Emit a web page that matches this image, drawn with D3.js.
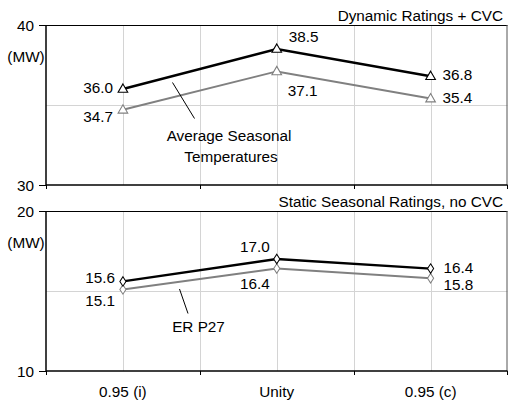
<!DOCTYPE html>
<html><head><meta charset="utf-8">
<script src="https://cdn.jsdelivr.net/npm/d3@7"></script>
<style>
html,body{margin:0;padding:0;background:#fff;}
text{font-family:"Liberation Sans",Arial,sans-serif;font-size:15.3px;fill:#000;}
</style></head>
<body>
<svg id="c" width="508" height="403"></svg>
<script>
const categories = ["0.95 (i)", "Unity", "0.95 (c)"];
const topBlack = [36.0, 38.5, 36.8];
const topGray = [34.7, 37.1, 35.4];
const botBlack = [15.6, 17.0, 16.4];
const botGray = [15.1, 16.4, 15.8];
const topTicks = [30, 40];
const botTicks = [10, 20];
const topTitle = "Dynamic Ratings + CVC";
const botTitle = "Static Seasonal Ratings, no CVC";
const unitLabel = "(MW)";

const svg = d3.select("#c");
const L = 46, R = 507.5;
const x = d3.scalePoint().domain(categories).range([L, R]).padding(0.5);
const xb = d3.scaleBand().domain(categories).range([L, R]);

const panels = [
  {domain:[30,40], top:25, bottom:185, ticks:topTicks, title:topTitle, titleY:21,
   series:[{v:topGray, color:"#808080", w:2}, {v:topBlack, color:"#000", w:2.4}], marker:"tri",
   labels:{black:[[-10,4,"end"],[12,-7,"start"],[12,4,"start"]], gray:[[-10,12,"end"],[11,25,"start"],[12,4,"start"]]}},
  {domain:[10,20], top:211, bottom:371, ticks:botTicks, title:botTitle, titleY:207,
   series:[{v:botGray, color:"#808080", w:2}, {v:botBlack, color:"#000", w:2.4}], marker:"dia",
   labels:{black:[[-8,2,"end"],[-7,-7,"end"],[13,4,"start"]], gray:[[-8,17,"end"],[-7,20,"end"],[13,12,"start"]]}}
];

panels.forEach((p, pi) => {
  const y = d3.scaleLinear().domain(p.domain).range([p.bottom, p.top]);
  const g = svg.append("g");
  // gridlines
  const mid = (p.domain[0]+p.domain[1])/2;
  g.append("line").attr("x1",L).attr("x2",R).attr("y1",Math.round(y(mid))+0.5).attr("y2",Math.round(y(mid))+0.5)
    .attr("stroke","#d4d4d4").attr("stroke-width",1);
  const vx = categories.map(c => x(c)).concat(categories.slice(1).map(c => xb(c)));
  vx.forEach(v => g.append("line").attr("x1",Math.round(v)+0.5).attr("x2",Math.round(v)+0.5)
    .attr("y1",p.top).attr("y2",p.bottom).attr("stroke","#d4d4d4").attr("stroke-width",1));
  // frame top & right
  g.append("line").attr("x1",L).attr("x2",R).attr("y1",p.top+0.5).attr("y2",p.top+0.5).attr("stroke","#000").attr("stroke-width",1);
  g.append("line").attr("x1",R-0.5).attr("x2",R-0.5).attr("y1",p.top).attr("y2",p.bottom).attr("stroke","#555").attr("stroke-width",1);
  // y axis
  const ya = d3.axisLeft(y).tickValues(p.ticks).tickSize(7).tickPadding(5).tickFormat(d3.format("d"));
  const yg = g.append("g").attr("transform",`translate(${L},0)`).call(ya);
  yg.attr("font-family",null).attr("font-size",null);
  yg.select(".domain").attr("stroke","#000").attr("stroke-width",1.5).attr("d",`M0,${p.top}V${p.bottom}`);
  yg.selectAll(".tick line").attr("stroke","#000").attr("stroke-width",1);
  yg.selectAll(".tick text").attr("dy","0.35em");
  // x axis
  const xa = d3.axisBottom(xb).tickValues([]).tickSize(0);
  const xg = g.append("g").attr("transform",`translate(0,${p.bottom})`).call(xa);
  xg.attr("font-family",null).attr("font-size",null);
  xg.select(".domain").attr("stroke","#000").attr("stroke-width",1.5).attr("d",`M${L},0H${R}`);
  const bounds = [L].concat(categories.slice(1).map(c => xb(c))).concat([R-0.5]);
  bounds.forEach(b => xg.append("line").attr("x1",Math.round(b)+0.5).attr("x2",Math.round(b)+0.5).attr("y1",0).attr("y2",4).attr("stroke","#000"));
  if (pi === 1) {
    xg.selectAll(".cat").data(categories).enter().append("text").attr("class","cat")
      .attr("x", d => x(d)).attr("y", 26).attr("text-anchor","middle").text(d => d);
  }
  // unit label
  g.append("text").attr("x",26).attr("y",p.top+37).attr("text-anchor","middle").text(unitLabel);
  // title
  g.append("text").attr("x",503).attr("y",p.titleY).attr("text-anchor","end").text(p.title);
  // lines
  const line = d3.line().x((d,i) => x(categories[i])).y(d => y(d));
  p.series.forEach(s => {
    g.append("path").datum(s.v).attr("d",line).attr("fill","none").attr("stroke",s.color).attr("stroke-width",s.w);
  });
  p.series.forEach(s => {
    const sym = d3.symbol().type(p.marker === "tri" ? d3.symbolTriangle : d3.symbolDiamond).size(p.marker==="tri"?40:36);
    g.selectAll(null).data(s.v).enter().append("path")
      .attr("d", sym)
      .attr("transform",(d,i) => `translate(${x(categories[i])},${y(d) + (p.marker==="tri"?0.5:0)})` + (p.marker==="dia" ? " scale(0.95,0.85)" : ""))
      .attr("fill","#fff").attr("stroke",s.color).attr("stroke-width",1.1);
  });
  // value labels
  const fmt = d3.format(".1f");
  [["gray",p.series[0].v],["black",p.series[1].v]].forEach(([k, vals]) => {
    vals.forEach((v,i) => {
      const [dx,dy,anc] = p.labels[k][i];
      g.append("text").attr("x", x(categories[i]) + dx).attr("y", y(v) + dy)
        .attr("text-anchor", anc).text(fmt(v));
    });
  });
});

// annotations
svg.append("line").attr("x1",172.5).attr("y1",82.5).attr("x2",194.5).attr("y2",118.5).attr("stroke","#000").attr("stroke-width",1);
svg.append("text").attr("x",229).attr("y",141).attr("text-anchor","middle").text("Average Seasonal");
svg.append("text").attr("x",231).attr("y",162).attr("text-anchor","middle").text("Temperatures");
svg.append("line").attr("x1",179.5).attr("y1",289).attr("x2",188).attr("y2",313.5).attr("stroke","#000").attr("stroke-width",1);
svg.append("text").attr("x",198.5).attr("y",332).attr("text-anchor","middle").text("ER P27");
</script>
</body></html>
